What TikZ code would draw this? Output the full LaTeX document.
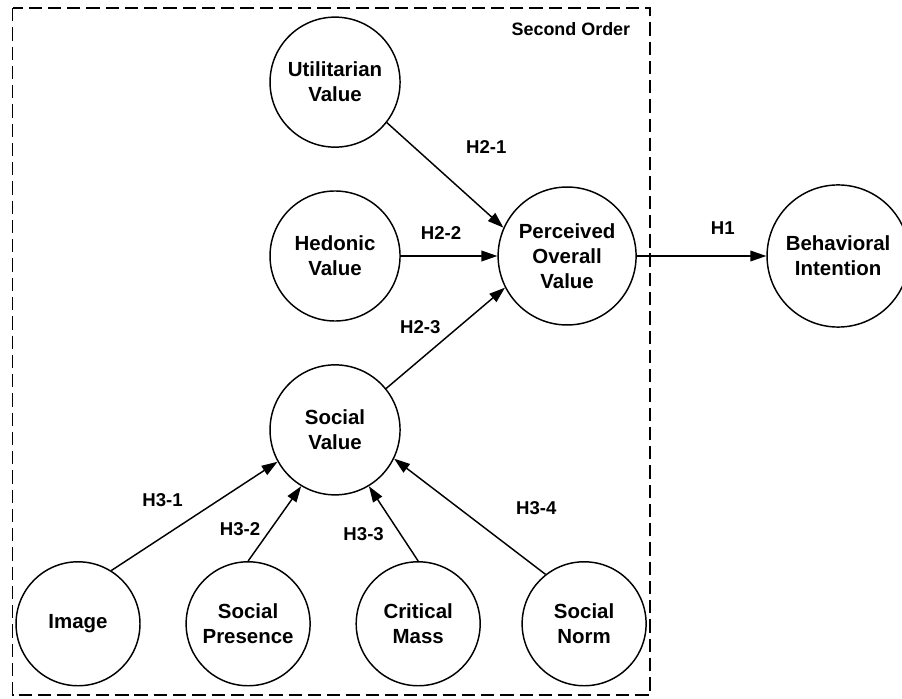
\documentclass[tikz,border=0pt]{standalone}
\usepackage{fontspec}
\setmainfont{Liberation Sans}
\usetikzlibrary{arrows.meta, positioning}

\begin{document}
\begin{tikzpicture}[node distance=4.6cm, on grid, line width=1.1pt,
		>={Triangle[length=12pt,width=8pt]},
		var/.style={circle, draw, inner sep=0pt, minimum size=3.44cm, align=center,
			font=\fontsize{15.4}{18.75}\selectfont\bfseries},
		hyp/.style={font=\fontsize{14}{16}\selectfont\bfseries}]
		\useasboundingbox (-8.864,-11.695) rectangle (15.0,6.773);
		\node[var] (hed) at (0,0) {Hedonic\\Value};
		\node[var, above = of hed] (util) {Utilitarian\\Value};
		\node[var, below = of hed] (soc) {Social\\Value};
		\node[var, minimum size=3.65cm, right = 6.14cm of hed] (pov) {Perceived\\Overall\\Value};
		\node[var, minimum size=3.76cm, right = 7.17cm of pov] (bi) {Behavioral\\Intention};
		\node[var, minimum size=3.28cm, below left = 5.13cm and 6.8cm of soc] (img) {Image};
		\node[var, minimum size=3.28cm, right = 4.5cm of img] (pres) {Social\\Presence};
		\node[var, minimum size=3.28cm, right = 4.5cm of pres] (mass) {Critical\\Mass};
		\node[var, minimum size=3.28cm, right = 4.39cm of mass] (norm) {Social\\Norm};
		
		\draw[dash pattern=on 10pt off 4.5pt] (-8.53,6.56) rectangle (8.33,-11.62);
		\node[hyp, font=\fontsize{13.5}{16}\selectfont\bfseries] (order) at (6.24,6.0) {Second Order};
		
		\path[->] (util.-38) edge node[hyp, xshift=31pt, yshift=21pt] {H2-1} (pov.156)
		(hed.east) edge node[hyp, xshift=-6pt, yshift=17pt] {H2-2} (pov.west)
		(soc.39) edge node[hyp, xshift=-19pt, yshift=8pt] {H2-3} (pov.207)
		(pov.east) edge node[hyp, xshift=16pt, yshift=21pt] {H1} (bi.west)
		(img.58) edge node[hyp, xshift=-24pt, yshift=12pt] {H3-1} (soc.209)
		(pres.north) edge node[hyp, xshift=-26pt, yshift=-4pt] {H3-2} (soc.239)
		(mass.north) edge node[hyp, xshift=-22.5pt, yshift=-8pt] {H3-3} (soc.301)
		(norm.128) edge node[hyp, xshift=50pt, yshift=6pt] {H3-4} (soc.-26);
\end{tikzpicture}
\end{document}
